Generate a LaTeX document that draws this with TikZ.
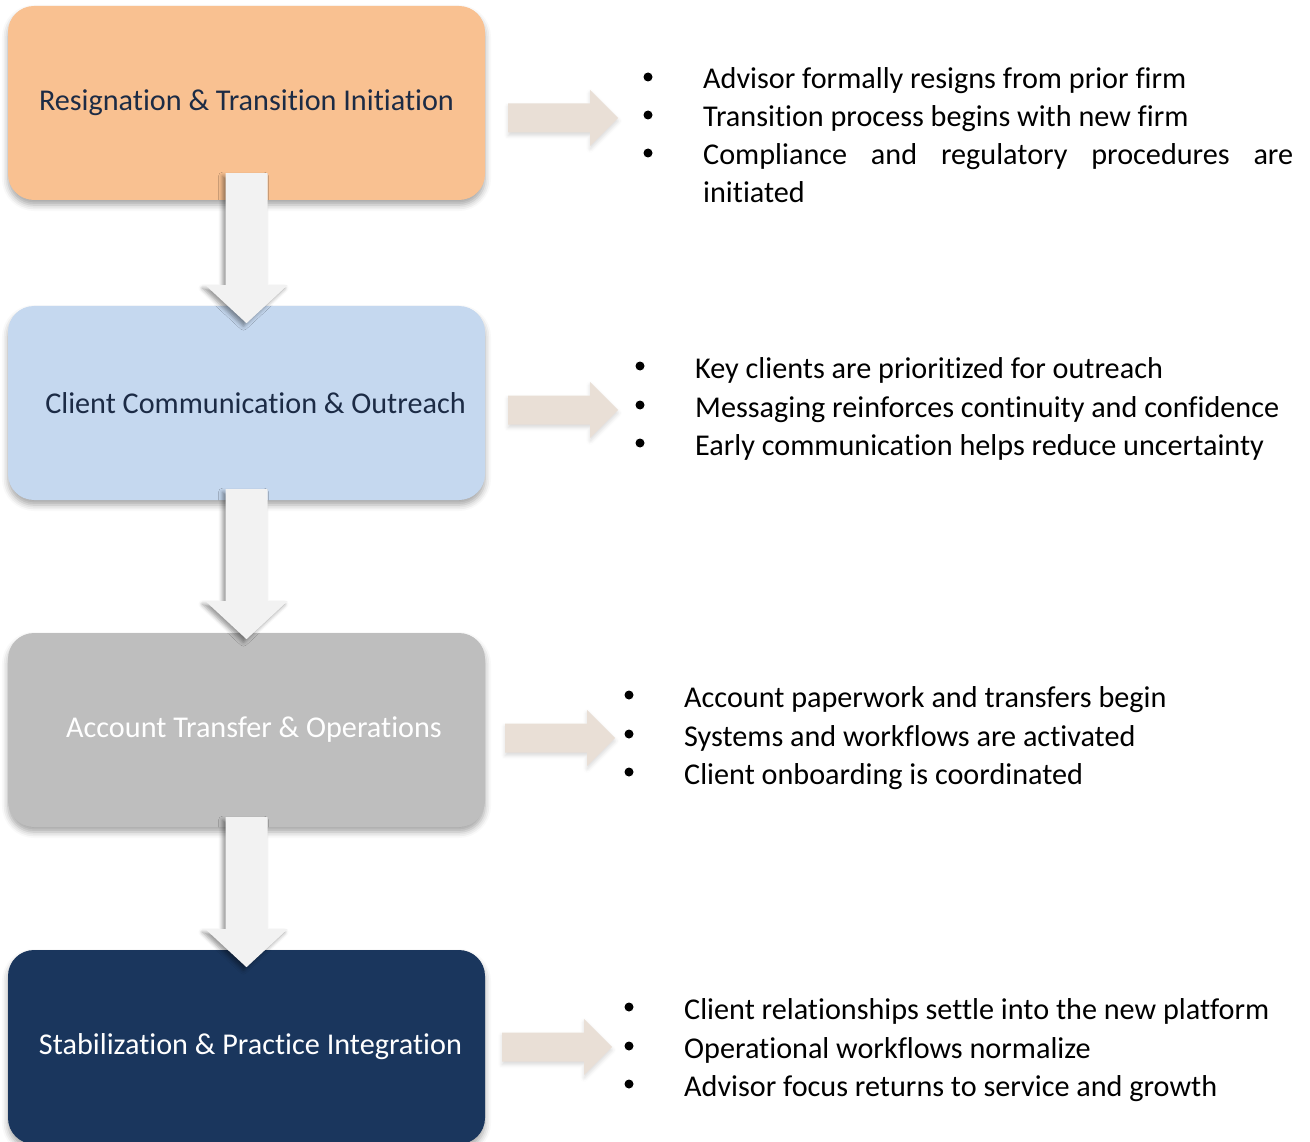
\documentclass[tikz,border=0pt]{standalone}
\usepackage{fontspec}
\setmainfont{Carlito}[Ligatures=NoCommon]
\usetikzlibrary{calc, shadows.blur}

\definecolor{peach}{HTML}{F9C191}
\definecolor{sky}{HTML}{C5D8EF}
\definecolor{stone}{HTML}{BEBEBE}
\definecolor{navy}{HTML}{1A365D}
\definecolor{ink}{HTML}{1C2B45}
\definecolor{sand}{HTML}{E9DFD6}
\definecolor{mist}{HTML}{F2F2F2}

\begin{document}
\begin{tikzpicture}[
    x=1pt, y=-1pt,
    stage/.style={rectangle, rounded corners=26pt, minimum width=477pt, minimum height=194pt,
        align=center, inner sep=0pt, font=\fontsize{30.2}{38}\selectfont,
        blur shadow={shadow xshift=0pt, shadow yshift=-5pt, shadow blur radius=6pt, shadow opacity=35}},
    downarrow/.style={fill=mist,
        blur shadow={shadow xshift=-3pt, shadow yshift=-3pt, shadow blur radius=4pt, shadow opacity=40}},
    sidearrow/.style={fill=sand,
        blur shadow={shadow xshift=0pt, shadow yshift=-3pt, shadow blur radius=4pt, shadow opacity=15}},
    dot/.style={circle, fill=black, inner sep=0pt, minimum size=9pt},
    point/.style={anchor=base west, inner sep=0pt, font=\fontsize{30.2}{38}\selectfont},
]

\useasboundingbox (0,0) rectangle (1310,1142);

% Stages
\node[stage, fill=peach, text=ink] (resign) at (246.5,103) {Resignation \& Transition Initiation};
\node[stage, fill=sky, text=ink] (outreach) at (246.5,403) {\hspace*{18pt}Client Communication \& Outreach};
\node[stage, fill=stone, text=white] (transfer) at (246.5,730) {\hspace*{15pt}Account Transfer \& Operations};
\node[stage, fill=navy, text=white] (settle) at (246.5,1047) {\hspace*{8pt}Stabilization \& Practice Integration};

% Block arrows between stages
\path[downarrow, shift={($(resign.south)+(0,-27)$)}]
    (-21,0) -- (21,0) -- (21,112) -- (41,112) -- (0,150) -- (-41,112) -- (-21,112) -- cycle;
\path[downarrow, shift={($(outreach.south)+(0,-11)$)}]
    (-21,0) -- (21,0) -- (21,112) -- (41,112) -- (0,150) -- (-41,112) -- (-21,112) -- cycle;
\path[downarrow, shift={($(transfer.south)+(0,-10)$)}]
    (-21,0) -- (21,0) -- (21,112) -- (41,112) -- (0,150) -- (-41,112) -- (-21,112) -- cycle;

% Arrows out to the notes
\path[sidearrow, shift={($(resign.east)+(23,15)$)}]
    (0,-14.5) -- (82,-14.5) -- (82,-28) -- (110,0) -- (82,28) -- (82,14.5) -- (0,14.5) -- cycle;
\path[sidearrow, shift={($(outreach.east)+(23,7)$)}]
    (0,-14.5) -- (82,-14.5) -- (82,-28) -- (110,0) -- (82,28) -- (82,14.5) -- (0,14.5) -- cycle;
\path[sidearrow, shift={($(transfer.east)+(20,8)$)}]
    (0,-14.5) -- (82,-14.5) -- (82,-28) -- (110,0) -- (82,28) -- (82,14.5) -- (0,14.5) -- cycle;
\path[sidearrow, shift={($(settle.east)+(17,0)$)}]
    (0,-14.5) -- (82,-14.5) -- (82,-28) -- (110,0) -- (82,28) -- (82,14.5) -- (0,14.5) -- cycle;

% Notes: resignation
\node[dot] (d11) at (648,77) {};
\node[dot] (d12) at (648,115) {};
\node[dot] (d13) at (648,153) {};
\node[point] (p11) at (703,89) {Advisor formally resigns from prior firm};
\node[point] (p12) at (703,127) {Transition process begins with new firm};
\node[point, text width=590pt, align=justify] (p13) at (703,165)
    {Compliance and regulatory procedures are\linebreak initiated};

% Notes: outreach
\node[dot] (d21) at (640,366) {};
\node[dot] (d22) at (640,405) {};
\node[dot] (d23) at (640,443) {};
\node[point] (p21) at (695,378) {Key clients are prioritized for outreach};
\node[point] (p22) at (695,417) {Messaging reinforces continuity and confidence};
\node[point] (p23) at (695,455) {Early communication helps reduce uncertainty};

% Notes: transfer
\node[dot] (d31) at (629,695) {};
\node[dot] (d32) at (629,734) {};
\node[dot] (d33) at (629,772) {};
\node[point] (p31) at (684,707) {Account paperwork and transfers begin};
\node[point] (p32) at (684,746) {Systems and workflows are activated};
\node[point] (p33) at (684,784) {Client onboarding is coordinated};

% Notes: stabilization
\node[dot] (d41) at (629,1007) {};
\node[dot] (d42) at (629,1046) {};
\node[dot] (d43) at (629,1084) {};
\node[point] (p41) at (684,1019) {Client relationships settle into the new platform};
\node[point] (p42) at (684,1058) {Operational workflows normalize};
\node[point] (p43) at (684,1096) {Advisor focus returns to service and growth};

\end{tikzpicture}
\end{document}
